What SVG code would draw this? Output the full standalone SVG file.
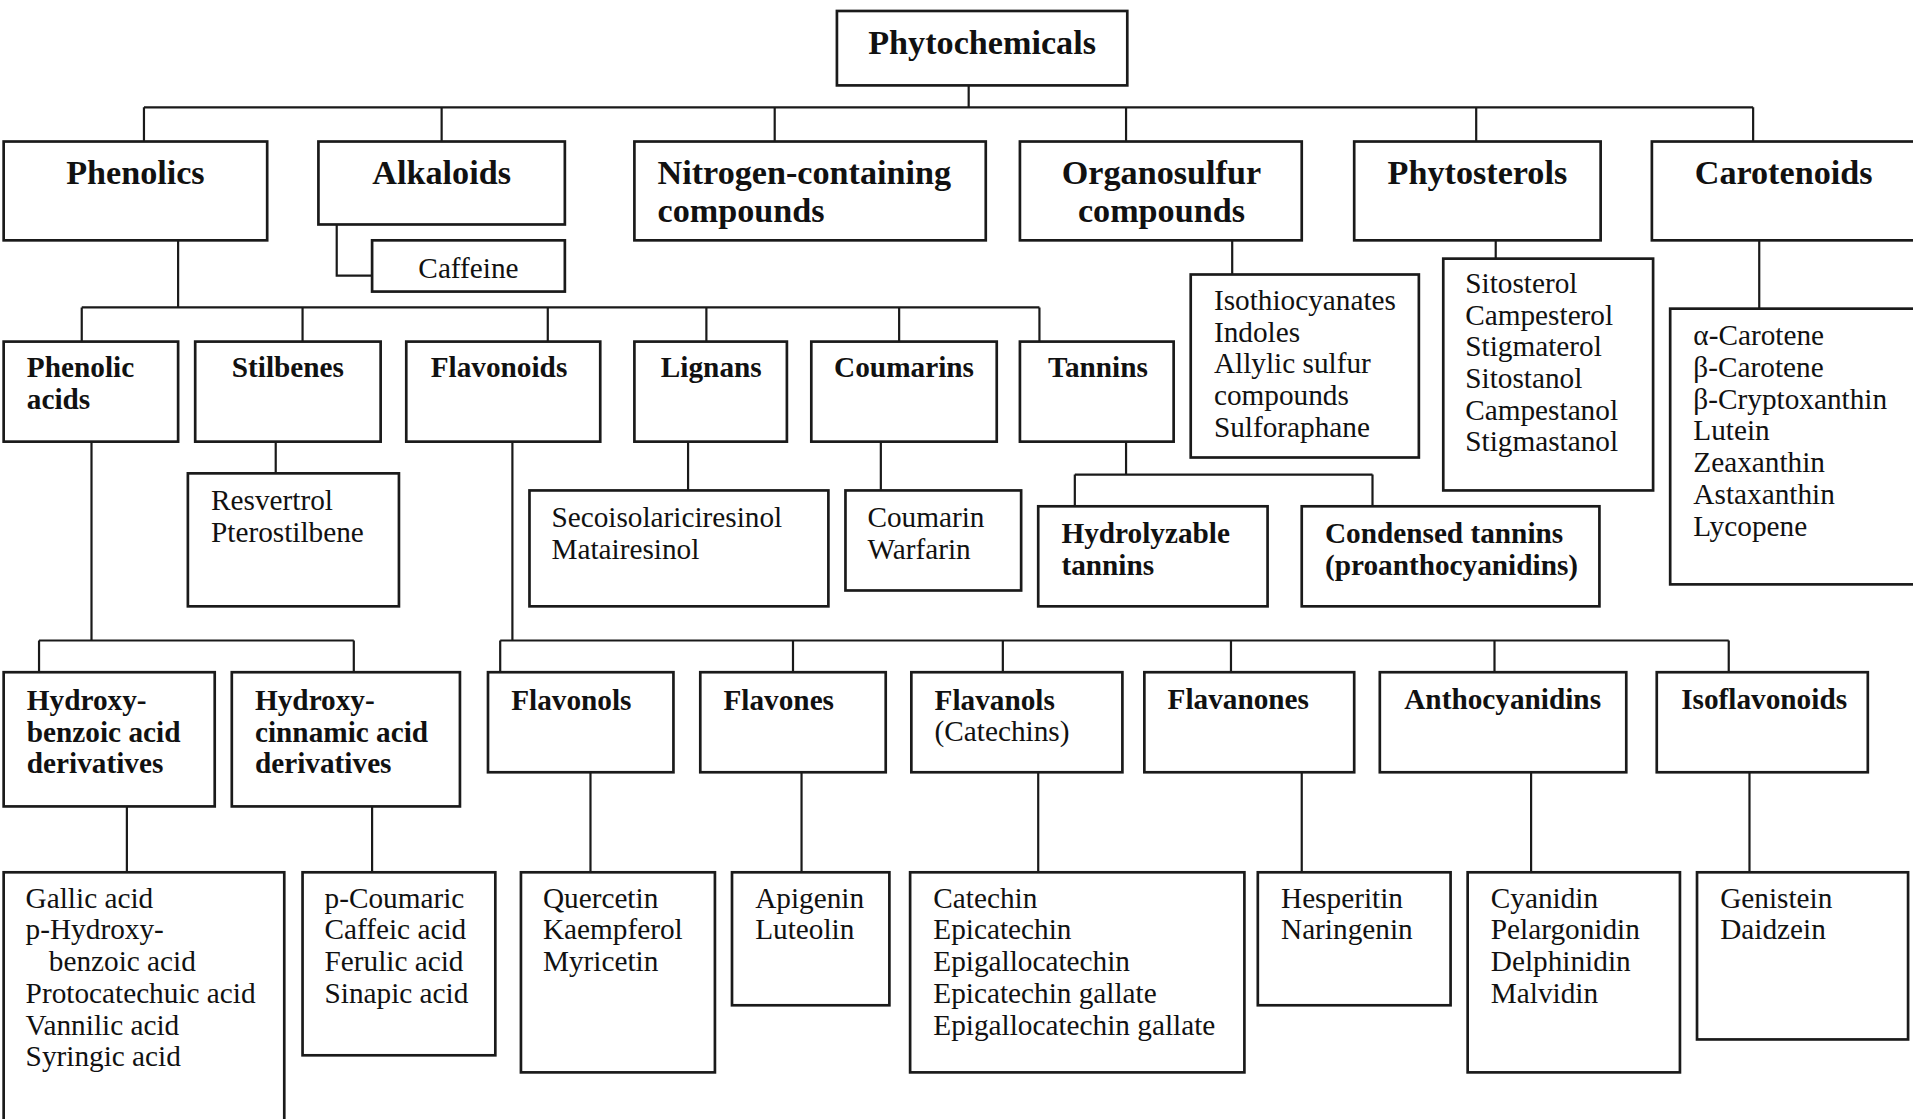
<svg xmlns="http://www.w3.org/2000/svg" width="1913" height="1119" viewBox="0 0 1913 1119">
<style>
.box{fill:#fff;stroke:#1a1a1a;stroke-width:2.2}
.ln{fill:none;stroke:#1a1a1a;stroke-width:1.8}
text{fill:#111;font-family:"Liberation Serif","Times New Roman",serif}
.t0{font-size:28px;font-weight:bold}
.tb{font-size:24px;font-weight:bold}
.tr{font-size:24px}
.c{text-anchor:middle}
</style>
<rect width="1913" height="1119" fill="#fff"/>
<g transform="scale(1.22)">
<g id="connectors" class="ln">
<path d="M794,70V88M118,88H1437M118,88V116M362,88V116M635,88V116M923,88V116M1210,88V116M1437,88V116"/>
<path d="M276,184V226H305"/>
<path d="M146,197V252M67,252H852M67,252V280M248,252V280M449,252V280M579,252V280M737,252V280M852,252V280"/>
<path d="M226,362V388M564,362V402M722,362V402"/>
<path d="M923,362V389M881,389H1125M881,389V415M1125,389V415"/>
<path d="M1010,197V225M1226,197V212M1442,197V253"/>
<path d="M75,362V525M32,525H290M32,525V551M290,525V551M104,661V715M305,661V715"/>
<path d="M420,362V525M410,525H1417M410,525V551M650,525V551M822,525V551M1009,525V551M1225,525V551M1417,525V551"/>
<path d="M484,633V715M657,633V715M851,633V715M1067,633V715M1255,633V715M1434,633V715"/>
</g>
<g id="n-phytochemicals"><rect class="box" x="686" y="9" width="238" height="61"/><text class="t0 c" x="805" y="44">Phytochemicals</text></g>
<g id="n-phenolics"><rect class="box" x="3" y="116" width="216" height="81"/><text class="t0 c" x="111" y="151">Phenolics</text></g>
<g id="n-alkaloids"><rect class="box" x="261" y="116" width="202" height="68"/><text class="t0 c" x="362" y="151">Alkaloids</text></g>
<g id="n-caffeine"><rect class="box" x="305" y="197" width="158" height="42"/><text class="tr c" x="384" y="228">Caffeine</text></g>
<g id="n-nitrogen"><rect class="box" x="520" y="116" width="288" height="81"/><text class="t0" x="539" y="151">Nitrogen-containing</text><text class="t0" x="539" y="182">compounds</text></g>
<g id="n-organosulfur"><rect class="box" x="836" y="116" width="231" height="81"/><text class="t0 c" x="952" y="151">Organosulfur</text><text class="t0 c" x="952" y="182">compounds</text></g>
<g id="n-phytosterols"><rect class="box" x="1110" y="116" width="202" height="81"/><text class="t0 c" x="1211" y="151">Phytosterols</text></g>
<g id="n-carotenoids"><rect class="box" x="1354" y="116" width="218" height="81"/><text class="t0 c" x="1462" y="151">Carotenoids</text></g>

<g id="n-organosulfur-list"><rect class="box" x="976" y="225" width="187" height="150"/>
<text class="tr" x="995"><tspan x="995" y="254">Isothiocyanates</tspan><tspan x="995" y="280">Indoles</tspan><tspan x="995" y="306">Allylic sulfur</tspan><tspan x="995" y="332">compounds</tspan><tspan x="995" y="358">Sulforaphane</tspan></text></g>
<g id="n-phytosterols-list"><rect class="box" x="1183" y="212" width="172" height="190"/>
<text class="tr"><tspan x="1201" y="240">Sitosterol</tspan><tspan x="1201" y="266">Campesterol</tspan><tspan x="1201" y="292">Stigmaterol</tspan><tspan x="1201" y="318">Sitostanol</tspan><tspan x="1201" y="344">Campestanol</tspan><tspan x="1201" y="370">Stigmastanol</tspan></text></g>
<g id="n-carotenoids-list"><rect class="box" x="1369" y="253" width="203" height="226"/>
<text class="tr"><tspan x="1388" y="283">α-Carotene</tspan><tspan x="1388" y="309">β-Carotene</tspan><tspan x="1388" y="335">β-Cryptoxanthin</tspan><tspan x="1388" y="361">Lutein</tspan><tspan x="1388" y="387">Zeaxanthin</tspan><tspan x="1388" y="413">Astaxanthin</tspan><tspan x="1388" y="439">Lycopene</tspan></text></g>

<g id="n-phenolic-acids"><rect class="box" x="3" y="280" width="143" height="82"/><text class="tb"><tspan x="22" y="309">Phenolic</tspan><tspan x="22" y="335">acids</tspan></text></g>
<g id="n-stilbenes"><rect class="box" x="160" y="280" width="152" height="82"/><text class="tb c" x="236" y="309">Stilbenes</text></g>
<g id="n-flavonoids"><rect class="box" x="333" y="280" width="159" height="82"/><text class="tb c" x="409" y="309">Flavonoids</text></g>
<g id="n-lignans"><rect class="box" x="520" y="280" width="125" height="82"/><text class="tb c" x="583" y="309">Lignans</text></g>
<g id="n-coumarins"><rect class="box" x="665" y="280" width="152" height="82"/><text class="tb c" x="741" y="309">Coumarins</text></g>
<g id="n-tannins"><rect class="box" x="836" y="280" width="126" height="82"/><text class="tb c" x="900" y="309">Tannins</text></g>

<g id="n-stilbenes-list"><rect class="box" x="154" y="388" width="173" height="109"/><text class="tr"><tspan x="173" y="418">Resvertrol</tspan><tspan x="173" y="444">Pterostilbene</tspan></text></g>
<g id="n-lignans-list"><rect class="box" x="434" y="402" width="245" height="95"/><text class="tr"><tspan x="452" y="432">Secoisolariciresinol</tspan><tspan x="452" y="458">Matairesinol</tspan></text></g>
<g id="n-coumarins-list"><rect class="box" x="693" y="402" width="144" height="82"/><text class="tr"><tspan x="711" y="432">Coumarin</tspan><tspan x="711" y="458">Warfarin</tspan></text></g>
<g id="n-hydrolyzable"><rect class="box" x="851" y="415" width="188" height="82"/><text class="tb"><tspan x="870" y="445">Hydrolyzable</tspan><tspan x="870" y="471">tannins</tspan></text></g>
<g id="n-condensed"><rect class="box" x="1067" y="415" width="244" height="82"/><text class="tb"><tspan x="1086" y="445">Condensed tannins</tspan><tspan x="1086" y="471">(proanthocyanidins)</tspan></text></g>

<g id="n-hydroxybenzoic"><rect class="box" x="3" y="551" width="173" height="110"/><text class="tb"><tspan x="22" y="582">Hydroxy-</tspan><tspan x="22" y="608">benzoic acid</tspan><tspan x="22" y="634">derivatives</tspan></text></g>
<g id="n-hydroxycinnamic"><rect class="box" x="190" y="551" width="187" height="110"/><text class="tb"><tspan x="209" y="582">Hydroxy-</tspan><tspan x="209" y="608">cinnamic acid</tspan><tspan x="209" y="634">derivatives</tspan></text></g>
<g id="n-flavonols"><rect class="box" x="400" y="551" width="152" height="82"/><text class="tb" x="419" y="582">Flavonols</text></g>
<g id="n-flavones"><rect class="box" x="574" y="551" width="152" height="82"/><text class="tb" x="593" y="582">Flavones</text></g>
<g id="n-flavanols"><rect class="box" x="747" y="551" width="173" height="82"/><text class="tb" x="766" y="582">Flavanols</text><text class="tr" x="766" y="607">(Catechins)</text></g>
<g id="n-flavanones"><rect class="box" x="938" y="551" width="172" height="82"/><text class="tb" x="957" y="581">Flavanones</text></g>
<g id="n-anthocyanidins"><rect class="box" x="1131" y="551" width="202" height="82"/><text class="tb" x="1151" y="581">Anthocyanidins</text></g>
<g id="n-isoflavonoids"><rect class="box" x="1358" y="551" width="173" height="82"/><text class="tb" x="1378" y="581">Isoflavonoids</text></g>

<g id="n-benzoic-list"><rect class="box" x="3" y="715" width="230" height="215"/><text class="tr"><tspan x="21" y="744">Gallic acid</tspan><tspan x="21" y="770">p-Hydroxy-</tspan><tspan x="40" y="796">benzoic acid</tspan><tspan x="21" y="822">Protocatechuic acid</tspan><tspan x="21" y="848">Vannilic acid</tspan><tspan x="21" y="874">Syringic acid</tspan></text></g>
<g id="n-cinnamic-list"><rect class="box" x="248" y="715" width="158" height="150"/><text class="tr"><tspan x="266" y="744">p-Coumaric</tspan><tspan x="266" y="770">Caffeic acid</tspan><tspan x="266" y="796">Ferulic acid</tspan><tspan x="266" y="822">Sinapic acid</tspan></text></g>
<g id="n-flavonols-list"><rect class="box" x="427" y="715" width="159" height="164"/><text class="tr"><tspan x="445" y="744">Quercetin</tspan><tspan x="445" y="770">Kaempferol</tspan><tspan x="445" y="796">Myricetin</tspan></text></g>
<g id="n-flavones-list"><rect class="box" x="600" y="715" width="129" height="109"/><text class="tr"><tspan x="619" y="744">Apigenin</tspan><tspan x="619" y="770">Luteolin</tspan></text></g>
<g id="n-flavanols-list"><rect class="box" x="746" y="715" width="274" height="164"/><text class="tr"><tspan x="765" y="744">Catechin</tspan><tspan x="765" y="770">Epicatechin</tspan><tspan x="765" y="796">Epigallocatechin</tspan><tspan x="765" y="822">Epicatechin gallate</tspan><tspan x="765" y="848">Epigallocatechin gallate</tspan></text></g>
<g id="n-flavanones-list"><rect class="box" x="1031" y="715" width="158" height="109"/><text class="tr"><tspan x="1050" y="744">Hesperitin</tspan><tspan x="1050" y="770">Naringenin</tspan></text></g>
<g id="n-anthocyanidins-list"><rect class="box" x="1203" y="715" width="174" height="164"/><text class="tr"><tspan x="1222" y="744">Cyanidin</tspan><tspan x="1222" y="770">Pelargonidin</tspan><tspan x="1222" y="796">Delphinidin</tspan><tspan x="1222" y="822">Malvidin</tspan></text></g>
<g id="n-isoflavonoids-list"><rect class="box" x="1391" y="715" width="173" height="137"/><text class="tr"><tspan x="1410" y="744">Genistein</tspan><tspan x="1410" y="770">Daidzein</tspan></text></g>
</g>
</svg>
